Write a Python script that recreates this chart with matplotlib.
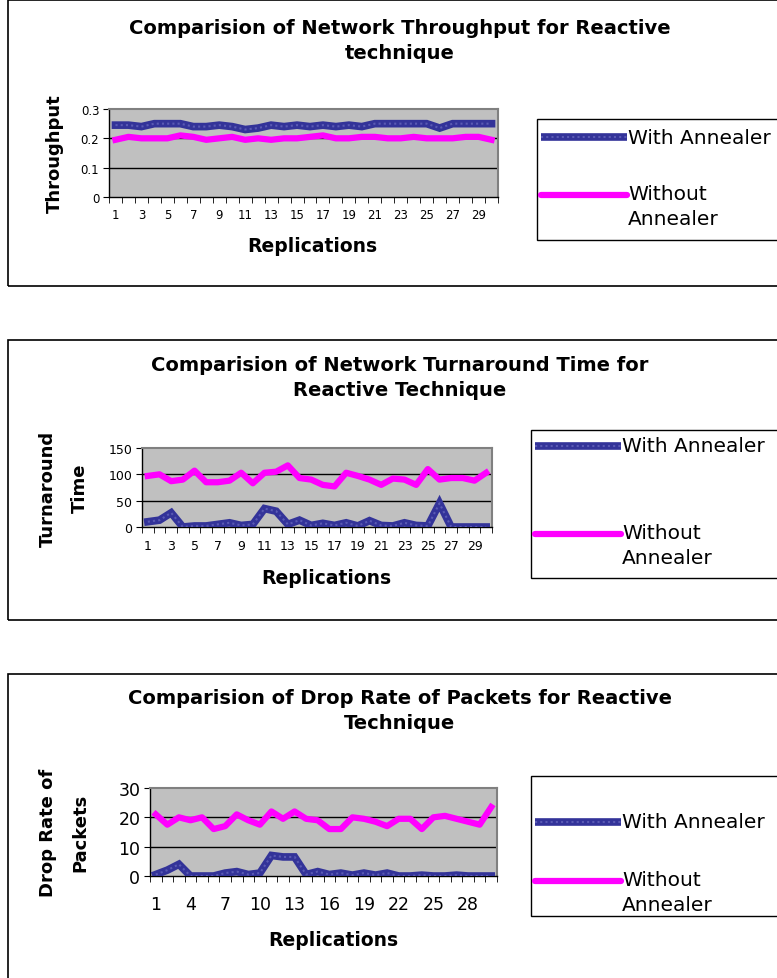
import matplotlib
matplotlib.use('Agg')
import matplotlib.pyplot as plt
from matplotlib.patches import Rectangle
from matplotlib.lines import Line2D

plt.rcParams['font.family'] = ['DejaVu Sans']

W, H = 777, 979

replications = list(range(1, 31))
series_names = ['With Annealer', 'Without Annealer']

# Throughput
thr_with = [0.245, 0.245, 0.24, 0.25, 0.25, 0.25, 0.24, 0.24, 0.245, 0.24,
            0.23, 0.235, 0.245, 0.24, 0.245, 0.24, 0.245, 0.24, 0.245, 0.24,
            0.25, 0.25, 0.25, 0.25, 0.25, 0.235, 0.25, 0.25, 0.25, 0.25]
thr_without = [0.195, 0.205, 0.2, 0.2, 0.2, 0.21, 0.205, 0.195, 0.2, 0.205,
               0.195, 0.2, 0.195, 0.2, 0.2, 0.205, 0.21, 0.2, 0.2, 0.205,
               0.205, 0.2, 0.2, 0.205, 0.2, 0.2, 0.2, 0.205, 0.205, 0.195]

# Turnaround time
tat_with = [10, 13, 27, 0, 2, 2, 5, 8, 3, 5,
            35, 30, 5, 13, 3, 7, 3, 8, 2, 12,
            3, 2, 8, 3, 2, 45, 0, 0, 0, 0]
tat_without = [97, 100, 87, 90, 107, 85, 85, 88, 103, 83,
               103, 105, 117, 93, 90, 80, 77, 103, 97, 90,
               80, 92, 90, 80, 110, 90, 93, 93, 88, 103]

# Drop rate
drop_with = [0.5, 2, 4, 0, 0, 0, 1, 1.5, 0.5, 1,
             7, 6.5, 6.5, 0.5, 1.5, 0.5, 1, 0.3, 1, 0.3,
             1, 0, 0, 0.3, 0, 0, 0.3, 0, 0, 0]
drop_without = [21, 17.5, 20, 19, 20, 16, 17, 21, 19, 17.5,
                22, 19.5, 22, 19.5, 19, 16, 16, 20, 19.5, 18.5,
                17, 19.5, 19.5, 16, 20, 20.5, 19.5, 18.5, 17.5, 23.5]

BLUE = '#333399'
MAGENTA = '#ff00ff'

fig = plt.figure(figsize=(W / 100, H / 100), dpi=100)


def fx(x):
    return x / W


def fy(y):
    return 1 - y / H


def txt(x, y, s, **kw):
    fig.text(fx(x), fy(y), s, ha='center', va='center', **kw)


panels = [
    dict(frame=(8, 1, 287), ax=(109, 110, 498, 198), ylim=(0, 0.3), yticks=[0, 0.1, 0.2, 0.3],
         yfmt=['0', '0.1', '0.2', '0.3'], xstep=2, tickfs=8.5, ytickfs=8.5, xpad=8,
         data=(thr_with, thr_without),
         title='Comparision of Network Throughput for Reactive\ntechnique', title_y=41,
         ylabel='Throughput', ylab_x=55, xlab_y=247, xlab_x=312,
         leg=(537, 120, 241), leg_rows=(138, 196)),
    dict(frame=(8, 341, 621), ax=(142, 449, 492, 528), ylim=(0, 150), yticks=[0, 50, 100, 150],
         yfmt=['0', '50', '100', '150'], xstep=2, tickfs=9, ytickfs=9, xpad=9,
         data=(tat_with, tat_without),
         title='Comparision of Network Turnaround Time for\nReactive Technique', title_y=378,
         ylabel='Turnaround\nTime', ylab_x=64, xlab_y=579, xlab_x=326,
         leg=(531, 431, 579), leg_rows=(447, 535)),
    dict(frame=(8, 675, 990), ax=(150, 789, 497, 877), ylim=(0, 30), yticks=[0, 10, 20, 30],
         yfmt=['0', '10', '20', '30'], xstep=3, tickfs=12.5, ytickfs=12.5, xpad=14,
         data=(drop_with, drop_without),
         title='Comparision of Drop Rate of Packets for Reactive\nTechnique', title_y=711,
         ylabel='Drop Rate of\nPackets', ylab_x=64, xlab_y=941, xlab_x=333,
         leg=(531, 777, 917), leg_rows=(823, 882)),
]

for p in panels:
    fl, ft, fb = p['frame']
    fig.patches.append(Rectangle((fx(fl), fy(fb)), fx(W + 10 - fl), fy(ft) - fy(fb),
                                 transform=fig.transFigure, fill=False,
                                 edgecolor='black', linewidth=1.2))
    x0, y0, x1, y1 = p['ax']
    ax = fig.add_axes([fx(x0), fy(y1), fx(x1 - x0), fy(y0) - fy(y1)])
    ax.set_facecolor('#c0c0c0')
    with_vals, without_vals = p['data']
    ax.plot(replications, with_vals, color=BLUE, linewidth=5.5, solid_joinstyle='miter', zorder=3)
    ax.plot(replications, with_vals, color='#5a5ab4', linewidth=1.5, linestyle=(0, (1, 1.5)), zorder=4)
    ax.plot(replications, without_vals, color=MAGENTA, linewidth=4.5, solid_joinstyle='round', zorder=3)
    ax.set_xlim(0.5, 30.5)
    ax.set_ylim(*p['ylim'])
    ax.set_yticks(p['yticks'])
    ax.set_yticklabels(p['yfmt'], fontsize=p['ytickfs'])
    for yv in p['yticks'][1:-1]:
        ax.axhline(yv, color='black', linewidth=1, zorder=1)
    ax.set_xticks(replications[::p['xstep']])
    ax.set_xticklabels([str(r) for r in replications[::p['xstep']]], fontsize=p['tickfs'])
    ax.set_xticks([r + 0.5 for r in [0] + replications], minor=True)
    ax.tick_params(axis='x', which='major', length=0, pad=p['xpad'])
    ax.tick_params(axis='x', which='minor', length=4, direction='out')
    ax.tick_params(axis='y', length=4, direction='out', pad=3)
    for side in ['top', 'right']:
        ax.spines[side].set_color('#808080')
        ax.spines[side].set_linewidth(1.5)
    for side in ['left', 'bottom']:
        ax.spines[side].set_color('black')
        ax.spines[side].set_linewidth(1)

    txt(400, p['title_y'], p['title'], fontsize=14, fontweight='bold', linespacing=1.35)
    txt(p['xlab_x'], p['xlab_y'], 'Replications', fontsize=13.5, fontweight='bold')
    txt(p['ylab_x'], (y0 + y1) / 2, p['ylabel'], fontsize=13, fontweight='bold',
        rotation=90, linespacing=2.0)

    # legend box
    lx, lt, lb = p['leg']
    fig.patches.append(Rectangle((fx(lx), fy(lb)), fx(W + 10 - lx), fy(lt) - fy(lb),
                                 transform=fig.transFigure, fill=True, facecolor='white',
                                 edgecolor='black', linewidth=1))
    r1, r2 = p['leg_rows']
    fig.lines.append(Line2D([fx(lx + 4), fx(lx + 90)], [fy(r1), fy(r1)], transform=fig.transFigure,
                            color=BLUE, linewidth=5.5, solid_capstyle='butt'))
    fig.lines.append(Line2D([fx(lx + 4), fx(lx + 90)], [fy(r1), fy(r1)], transform=fig.transFigure,
                            color='#5a5ab4', linewidth=1.5, linestyle=(0, (1, 1.5))))
    fig.lines.append(Line2D([fx(lx + 4), fx(lx + 90)], [fy(r2), fy(r2)], transform=fig.transFigure,
                            color=MAGENTA, linewidth=4.5, solid_capstyle='round'))
    fig.text(fx(lx + 91), fy(r1), series_names[0], ha='left', va='center', fontsize=14.5)
    fig.text(fx(lx + 91), fy(r2 - 11), series_names[1].replace(' ', '\n'), ha='left', va='top',
             fontsize=14.5, linespacing=1.4)

fig.savefig('out.png', dpi=100)
